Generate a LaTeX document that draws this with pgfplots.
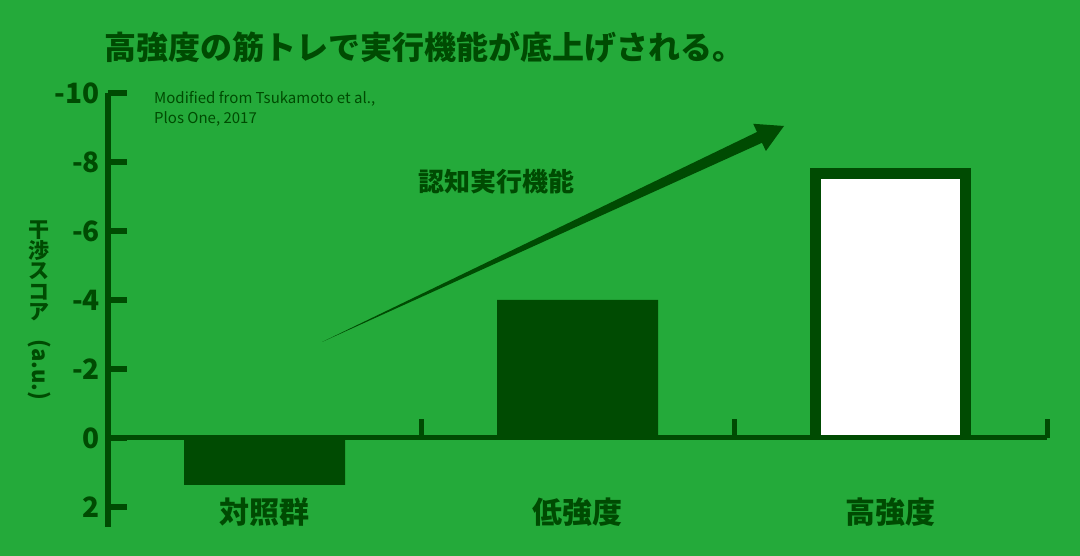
\documentclass[border=0pt]{standalone}
\usepackage{pgfplots}
\pgfplotsset{compat=1.18}
\usepackage{fontspec}
\setmainfont{Noto Sans CJK JP}
\definecolor{bg}{RGB}{36,170,58}
\definecolor{dk}{RGB}{0,75,2}

\begin{document}
\begin{tikzpicture}[x=1pt,y=1pt]
\fill[bg] (0,0) rectangle (1080,556);
\useasboundingbox (0,0) rectangle (1080,556);

% title
\node[anchor=west, inner sep=0pt, text=dk, font=\fontsize{32}{36}\selectfont\bfseries]
  at (104,509) {高強度の筋トレで実行機能が底上げされる。};

\begin{axis}[
  at={(108pt,29pt)}, anchor=south west,
  scale only axis, width=939pt, height=434pt,
  xmin=-0.5, xmax=2.5, ymin=-10, ymax=2.58, y dir=reverse,
  axis x line=none, axis y line*=left,
  axis line style={line width=5pt, dk, -},
  xtick=\empty,
  ytick={-10,-8,-6,-4,-2,0,2},
  yticklabels={-10,-8,-6,-4,-2,0,2},
  tick align=inside, major tick length=19pt,
  ytick style={line width=6pt, dk},
  yticklabel style={font=\fontsize{28}{28}\selectfont\bfseries, text=dk, inner sep=0pt, xshift=-8pt},
  ybar, bar shift=0pt,
  clip=false,
]
\addplot[fill=dk, draw=none, bar width=161pt] coordinates {(0,1.36) (1,-4.0)};
% high intensity: dark frame, white inside
\addplot[fill=dk, draw=none, bar width=161pt] coordinates {(2,-7.83)};
\addplot[fill=white, draw=none, bar width=139pt] coordinates {(2,-7.51)};

% x axis line and category separators
\draw[dk, line width=5pt] (axis cs:-0.5,0) -- (axis cs:2.5,0);
\draw[dk, line width=5pt] (axis cs:0.5,0) -- (axis cs:0.5,-0.55);
\draw[dk, line width=5pt] (axis cs:1.5,0) -- (axis cs:1.5,-0.55);
\draw[dk, line width=5pt] (axis cs:2.5,0) -- (axis cs:2.5,-0.55);

% category names
\node[text=dk, font=\fontsize{30}{30}\selectfont\bfseries] at (axis cs:0,2.15) {対照群};
\node[text=dk, font=\fontsize{30}{30}\selectfont\bfseries] at (axis cs:1,2.15) {低強度};
\node[text=dk, font=\fontsize{30}{30}\selectfont\bfseries] at (axis cs:2,2.15) {高強度};
\end{axis}

% trend arrow
\fill[dk] (322,214) -- (757,424) -- (753.2,432.2) -- (784,430) -- (765.9,405) -- (762,413.2) -- cycle;
\node[text=dk, font=\fontsize{26}{26}\selectfont\bfseries] at (496,374) {認知実行機能};

% source note
\node[anchor=north west, inner sep=0pt, align=left, text=dk, font=\fontsize{15}{20}\selectfont]
  at (154,465) {Modified from Tsukamoto et al.,\\Plos One, 2017};

% y label (vertical writing)
\node[anchor=north, inner sep=0pt, align=center, text=dk, font=\fontsize{21}{20.5}\selectfont\bfseries]
  at (39,335) {干\\渉\\ス\\コ\\ア};
\node[rotate=-90, inner sep=0pt, text=dk, font=\fontsize{22}{22}\selectfont\bfseries] at (39,186) {(a.u.)};
\end{tikzpicture}
\end{document}
